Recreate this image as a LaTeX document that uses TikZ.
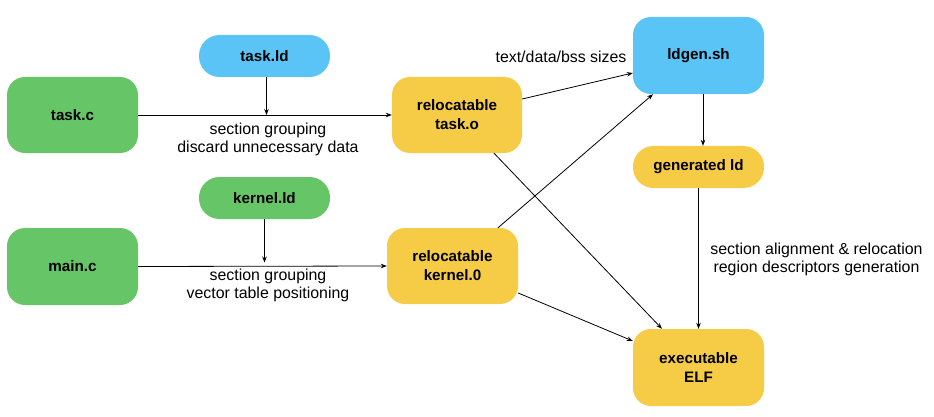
\documentclass[tikz,border=0pt]{standalone}
\usepackage{fontspec}
\setmainfont{Liberation Sans}
\usetikzlibrary{arrows.meta}
\definecolor{cgreen}{HTML}{66C566}
\definecolor{cblue}{HTML}{5BC4F7}
\definecolor{cyellow}{HTML}{F6CC46}
\tikzset{
  box/.style={rounded corners=18pt, inner sep=0pt, minimum width=131pt, minimum height=76pt,
    font=\fontsize{15.2}{19}\selectfont\bfseries, align=center},
  pill/.style={rounded corners=20.5pt, inner sep=0pt, minimum width=131pt, minimum height=42pt,
    font=\fontsize{15.2}{19}\selectfont\bfseries, align=center},
  lbl/.style={font=\fontsize{15.9}{18}\selectfont, align=center, inner sep=0pt},
  arr/.style={draw=black, line width=0.8pt, -{Stealth[length=6pt,width=4.5pt]}}
}
\begin{document}
\begin{tikzpicture}[x=1pt,y=-1pt]
\useasboundingbox (0,0) rectangle (934,417);
\node[box, fill=cgreen] (tc) at (72.5,115) {task.c};
\node[box, fill=cgreen, minimum height=77pt] (mc) at (72.5,266.5) {main.c};
\node[pill, fill=cblue] (tld) at (264.5,56) {task.ld};
\node[pill, fill=cgreen] (kld) at (264.5,198) {kernel.ld};
\node[box, fill=cyellow, minimum width=130pt] (to) at (457,115) {relocatable\\task.o};
\node[box, fill=cyellow] (ko) at (452.5,266) {relocatable\\kernel.0};
\node[box, fill=cblue, minimum height=77pt] (ld) at (698.5,55.5) {ldgen.sh};
\node[pill, fill=cyellow] (gen) at (698.5,167) {generated ld};
\node[box, fill=cyellow, minimum height=77pt] (elf) at (698.5,367.5) {executable\\ELF};
\node[lbl] (l1) at (268,139.5) {section grouping\\discard unnecessary data};
\node[lbl] (l2) at (268,285) {section grouping\\vector table positioning};
\node[lbl] (l3) at (561,57) {text/data/bss sizes};
\node[lbl] (l4) at (816.5,259) {section alignment \& relocation\\region descriptors generation};
\draw[arr] (tc.east) -- (to.west);
\draw[arr] ([xshift=2pt]tld.south) -- ([xshift=2pt]tld.south |- tc.east);
\draw[arr] (mc.east) -- (ko.west);
\draw[arr] (kld.south) -- ([yshift=4pt]kld.south |- mc.east);
\draw[arr] ([yshift=16pt]to.east) -- ([yshift=-17.5pt]ld.west);
\draw[arr] ([xshift=45.5pt]ko.north) -- ([xshift=-45.5pt]ld.south);
\draw[arr] ([xshift=37pt]to.south) -- ([xshift=-36.5pt]elf.north);
\draw[arr] ([yshift=-27pt]ko.east) -- ([yshift=26.5pt]elf.west);
\draw[arr] ([xshift=4.5pt]ld.south) -- ([xshift=4.5pt]gen.north);
\draw[arr] (gen.south) -- (elf.north);
\end{tikzpicture}
\end{document}
